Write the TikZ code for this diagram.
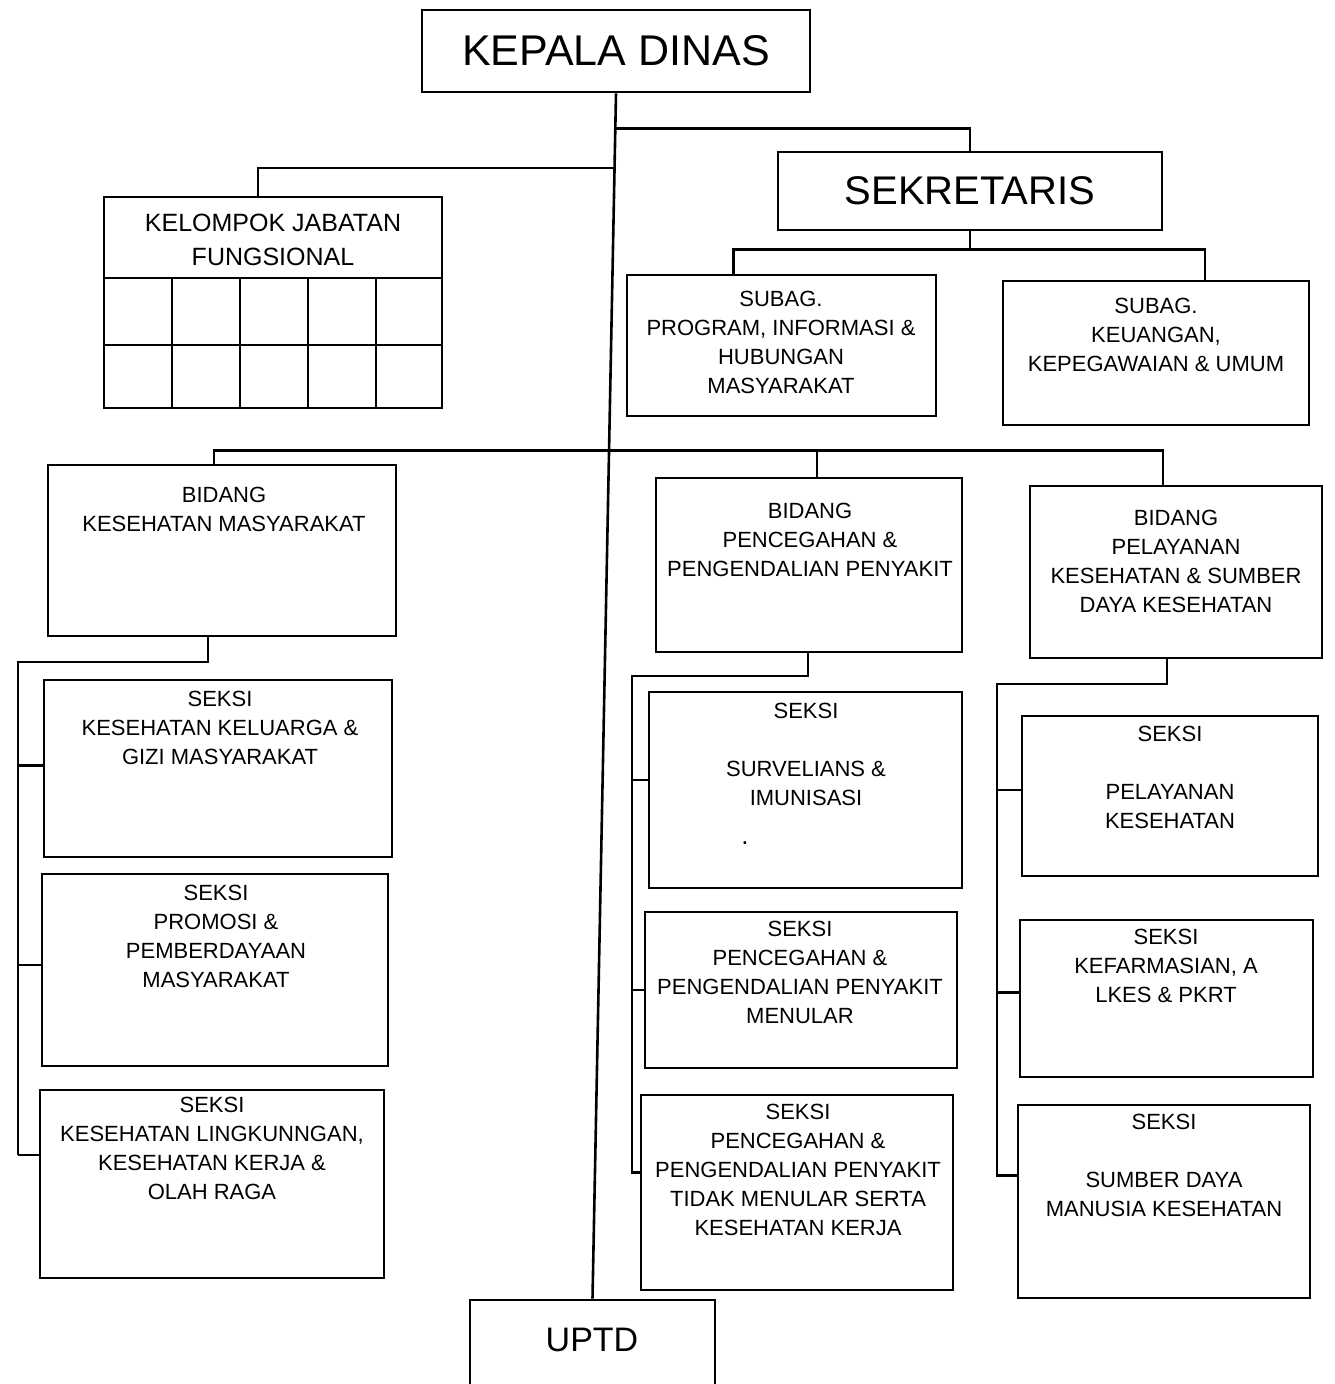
\documentclass[tikz,border=0pt]{standalone}
\usepackage{fontspec}
\setmainfont{Liberation Sans}
\usetikzlibrary{calc}
\newcommand{\orgbox}[5]{\node[box, minimum width={(#4)-(#2)}, minimum height={(#5)-(#3)}] (#1) at ({((#2)+(#4))/2},{((#3)+(#5))/2}) {};}
\begin{document}
\begin{tikzpicture}[x=1pt,y=-1pt,
  box/.style={draw, line width=2.6pt, inner sep=0pt, rectangle},
  txt/.style={font=\fontsize{22}{29}\selectfont, align=center, inner sep=0pt, anchor=north},
  ln/.style={line width=2.6pt},
]
\useasboundingbox (0,0) rectangle (1334,1384);
\fill[white] (0,0) rectangle (1334,1384);
\clip (0,0) rectangle (1334,1384);

% boxes
\orgbox{kd}{422}{10}{810}{92}
\orgbox{sek}{778}{152}{1162}{230}
\orgbox{kjf}{104}{197}{442}{408}
\orgbox{sp}{627}{275}{936}{416}
\orgbox{sk}{1003}{281}{1309}{425}
\orgbox{bkm}{48}{465}{396}{636}
\orgbox{bpp}{656}{478}{962}{652}
\orgbox{bpl}{1030}{486}{1322}{658}
\orgbox{sa}{44}{680}{392}{857}
\orgbox{sb}{42}{874}{388}{1066}
\orgbox{sc}{40}{1090}{384}{1278}
\orgbox{sd}{649}{692}{962}{888}
\orgbox{se}{645}{912}{957}{1068}
\orgbox{sf}{641}{1095}{953}{1290}
\orgbox{sg}{1022}{716}{1318}{876}
\orgbox{sh}{1020}{920}{1313}{1077}
\orgbox{si}{1018}{1105}{1310}{1298}
\orgbox{uptd}{470}{1300}{715}{1400}

% grid of kelompok jabatan fungsional
\draw[ln] (104,278) -- (442,278);
\draw[ln] (104,345) -- (442,345);
\foreach \gx in {172,240,308,376} \draw[ln] (\gx,278) -- (\gx,408);

% texts
\node[font=\fontsize{43}{50}\selectfont, inner sep=0pt] (tkd) at (kd.center) {KEPALA DINAS};
\node[font=\fontsize{40}{48}\selectfont, inner sep=0pt] (tsek) at (sek.center) {SEKRETARIS};
\node[font=\fontsize{34}{40}\selectfont, inner sep=0pt] (tuptd) at (592,1340) {UPTD};
\node[txt, font=\fontsize{25}{34}\selectfont] (tkjf) at (273,214) {KELOMPOK JABATAN\\FUNGSIONAL};
\node[txt] (tsp) at (781,291) {SUBAG.\\PROGRAM, INFORMASI \&\\HUBUNGAN\\MASYARAKAT};
\node[txt] (tsk) at (1156,298) {SUBAG.\\KEUANGAN,\\KEPEGAWAIAN \& UMUM};
\node[txt] (tbkm) at (224,487) {BIDANG\\KESEHATAN MASYARAKAT};
\node[txt] (tbpp) at (810,503) {BIDANG\\PENCEGAHAN \&\\PENGENDALIAN PENYAKIT};
\node[txt] (tbpl) at (1176,510) {BIDANG\\PELAYANAN\\KESEHATAN \& SUMBER\\DAYA KESEHATAN};
\node[txt] (tsa) at (220,691) {SEKSI\\KESEHATAN KELUARGA \&\\GIZI MASYARAKAT};
\node[txt] (tsb) at (216,885) {SEKSI\\PROMOSI \&\\PEMBERDAYAAN\\MASYARAKAT};
\node[txt] (tsc) at (212,1097) {SEKSI\\KESEHATAN LINGKUNNGAN,\\KESEHATAN KERJA \&\\OLAH RAGA};
\node[txt] (tsd) at (806,703) {SEKSI\\~\\SURVELIANS \&\\IMUNISASI};
\node[font=\fontsize{26}{29}\selectfont, inner sep=0pt] (dot) at (745,843) {.};
\node[txt] (tse) at (800,921) {SEKSI\\PENCEGAHAN \&\\PENGENDALIAN PENYAKIT\\MENULAR};
\node[txt] (tsf) at (798,1104) {SEKSI\\PENCEGAHAN \&\\PENGENDALIAN PENYAKIT\\TIDAK MENULAR SERTA\\KESEHATAN KERJA};
\node[txt] (tsg) at (1170,726) {SEKSI\\~\\PELAYANAN\\KESEHATAN};
\node[txt] (tsh) at (1166,929) {SEKSI\\KEFARMASIAN, A\\LKES \& PKRT};
\node[txt] (tsi) at (1164,1114) {SEKSI\\~\\SUMBER DAYA\\MANUSIA KESEHATAN};

% spine
\draw[ln] (kd.south) -- (uptd.north);
\coordinate (j1) at ($(kd.south)!{(127-92)/1208}!(uptd.north)$);
\coordinate (j2) at ($(kd.south)!{(167-92)/1208}!(uptd.north)$);
\coordinate (j3) at ($(kd.south)!{(450-92)/1208}!(uptd.north)$);

% top branches
\draw[ln] (j1) -| (sek.north);
\draw[ln] (j2) -| ([xshift=-15pt]kjf.north);
\draw[ln] (sek.south) -- ++(0,18) coordinate (sj);
\draw[ln] ([xshift=-48pt]sp.north) |- (sj) -| ([xshift=49pt]sk.north);

% bus to bidang
\draw[ln] ([xshift=-8pt]bkm.north) |- (j3) -| ([xshift=-13pt]bpl.north);
\draw[ln] ([xshift=8pt]bpp.north) -- ([xshift=8pt]bpp.north |- j3);

% left column
\coordinate (lturn) at (18,662);
\coordinate (lbot) at (18,1155);
\draw[ln] ([xshift=-14pt]bkm.south) |- (lturn) -- (lbot);
\draw[ln] ([yshift=3pt]sa.west) -| (lbot);
\draw[ln] ([yshift=5pt]sb.west) -| (lbot);
\draw[ln] ([yshift=29pt]sc.west) -| (lbot);

% middle column
\coordinate (mturn) at (632,676);
\coordinate (mbot) at (632,1172);
\draw[ln] ([xshift=-1pt]bpp.south) |- (mturn) -- (mbot);
\draw[ln] ([yshift=10pt]sd.west) -| (mbot);
\draw[ln] (se.west) -| (mbot);
\draw[ln] ([yshift=20pt]sf.west) -| (mbot);

% right column
\coordinate (rturn) at (997,684);
\coordinate (rbot) at (997,1175);
\draw[ln] ([xshift=-9pt]bpl.south) |- (rturn) -- (rbot);
\draw[ln] ([yshift=6pt]sg.west) -| (rbot);
\draw[ln] ([yshift=6pt]sh.west) -| (rbot);
\draw[ln] ([yshift=26pt]si.west) -| (rbot);
\end{tikzpicture}
\end{document}
